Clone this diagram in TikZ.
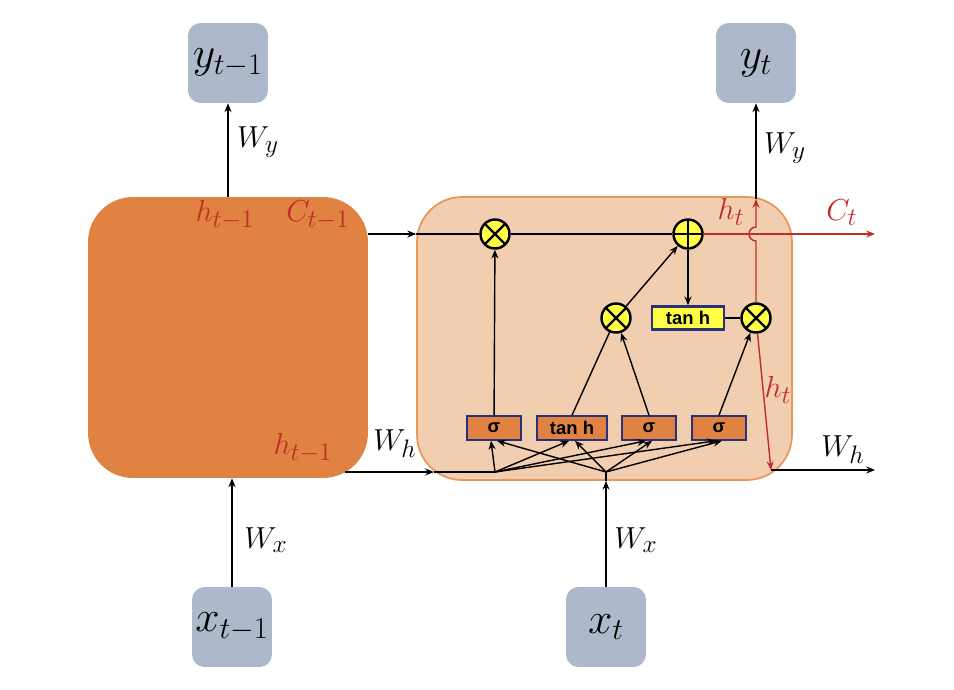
\documentclass[tikz,border=0pt]{standalone}
\usepackage{fontspec}
\usepackage{tikz}
\usetikzlibrary{arrows.meta,positioning}
\newfontfamily\gatefont{Liberation Sans}
\definecolor{cellorange}{RGB}{224,130,66}
\definecolor{cellpeach}{RGB}{242,206,176}
\definecolor{celledge}{RGB}{232,150,90}
\definecolor{iogray}{RGB}{173,185,202}
\definecolor{gatenavy}{RGB}{40,50,120}
\definecolor{opyellow}{RGB}{255,255,70}
\definecolor{hred}{RGB}{192,45,40}

\begin{document}
\begin{tikzpicture}[x=0.02cm, y=-0.02cm,
  io/.style={fill=iogray, rounded corners=0.25cm, minimum size=1.6cm, inner sep=0pt, font=\fontsize{25}{29}\selectfont},
  gatebox/.style={draw=gatenavy, line width=0.9pt, fill=cellorange, minimum width=1.08cm, minimum height=0.48cm, inner sep=0pt, font=\gatefont\bfseries\fontsize{10.5}{12}\selectfont},
  op/.style={circle, draw, line width=1.4pt, fill=opyellow, minimum size=0.58cm, inner sep=0pt},
  mul/.style={op, path picture={\draw[line width=1.4pt] (path picture bounding box.north west) -- (path picture bounding box.south east) (path picture bounding box.north east) -- (path picture bounding box.south west);}},
  add/.style={op, path picture={\draw[line width=1.4pt] (path picture bounding box.north) -- (path picture bounding box.south) (path picture bounding box.west) -- (path picture bounding box.east);}},
  lbl/.style={font=\fontsize{19}{22}\selectfont},
  rlbl/.style={lbl, text=hred},
  ln/.style={line width=0.8pt},
  arr/.style={-{Stealth[length=5pt,width=4pt]}, line width=0.8pt},
  redarr/.style={arr, draw=hred}]
\useasboundingbox (0,0) rectangle (954,690);

% the two cells
\node[fill=cellorange, rounded corners=0.9cm, minimum width=5.6cm, minimum height=5.62cm] (cellprev) at (228,337.5) {};
\node[draw=celledge, line width=1pt, fill=cellpeach, rounded corners=0.9cm, minimum width=7.5cm, minimum height=5.66cm] (cellcur) at (604.5,338.5) {};

% inputs and outputs
\node[io] (yprev) at (228,63) {$y_{t-1}$};
\node[io] (ycur) at (756,63) {$y_t$};
\node[io] (xprev) at (232,627) {$x_{t-1}$};
\node[io] (xcur) at (606,627) {$x_t$};

% gates
\node[gatebox] (fgate) at (494,428) {σ};
\node[gatebox, minimum width=1.4cm] (cgate) at (572,428) {tan h};
\node[gatebox] (igate) at (649,428) {σ};
\node[gatebox] (ogate) at (719,428) {σ};
\node[gatebox, fill=opyellow, minimum width=1.44cm, minimum height=0.46cm, line width=1.4pt] (ctanh) at (688,318) {tan h};

% pointwise operations
\node[mul] (fmul) at (495,234) {};
\node[add] (cadd) at (688,234) {};
\node[mul] (imul) at (616,318) {};
\node[mul] (omul) at (756,318) {};

\coordinate (jh) at (495,472);
\coordinate (jx) at (606,472);
\coordinate (hin) at (345,472);
\coordinate (hedge) at (434,472);
\coordinate (cend) at (875,234);
\coordinate (hop) at (756,241);
\coordinate (hup) at (756,199);
\coordinate (hout) at (771,470);
\coordinate (hend) at (875,470);

% previous cell
\draw[arr] (yprev |- cellprev.north) -- (yprev.south);
\draw[arr] (xprev.north) -- (xprev |- cellprev.south);

% cell state
\draw[arr] (cellprev.east |- fmul) -- (cellcur.west |- fmul);
\draw[ln] (cellcur.west |- fmul) -- (fmul);
\draw[ln] (fmul) -- (cadd);
\draw[redarr] (cadd.east) -- (cend);

% inputs into the gates
\draw[arr] (hin) -- (hedge);
\draw[ln] (hedge) -- (jh);
\draw[arr] (xcur.north) -- (xcur |- cellcur.south);
\draw[ln] (xcur |- cellcur.south) -- (jx);
\foreach \g in {fgate,cgate,igate,ogate} {
  \draw[arr] (jh) -- ([xshift=-0.06cm]\g.south);
  \draw[arr] (jx) -- ([xshift=0.06cm]\g.south);
}

% inside the cell
\draw[arr] (fgate) -- (fmul);
\draw[ln] (cgate.north) -- (imul);
\draw[arr] (igate.north) -- (imul);
\draw[arr] (imul) -- (cadd);
\draw[arr] (cadd) -- (ctanh);
\draw[ln] (ctanh) -- (omul);
\draw[arr] (ogate.north) -- (omul);

% hidden state
\draw[redarr] (omul.north) -- (hop) arc[start angle=90, end angle=270, radius=7] -- (hup);
\draw[arr] (hup) -- (ycur.south);
\draw[redarr] (omul) -- (hout);
\draw[arr] (hout) -- (hend);

% labels
\node[rlbl] (lhprev) at (225,215) {$h_{t-1}$};
\node[rlbl] (lcprev) at (318,215) {$C_{t-1}$};
\node[rlbl] (lhprevb) at (303,448) {$h_{t-1}$};
\node[rlbl] (lhtop) at (731,212) {$h_t$};
\node[rlbl] (lct) at (842,213) {$C_t$};
\node[rlbl] (lhdown) at (778,390) {$h_t$};
\node[lbl] (lwyprev) at (258,142) {$W_y$};
\node[lbl] (lwycur) at (785,148) {$W_y$};
\node[lbl] (lwxprev) at (266,540) {$W_x$};
\node[lbl] (lwxcur) at (636,540) {$W_x$};
\node[lbl] (lwhin) at (395,444) {$W_h$};
\node[lbl] (lwhout) at (843,450) {$W_h$};
\end{tikzpicture}
\end{document}
